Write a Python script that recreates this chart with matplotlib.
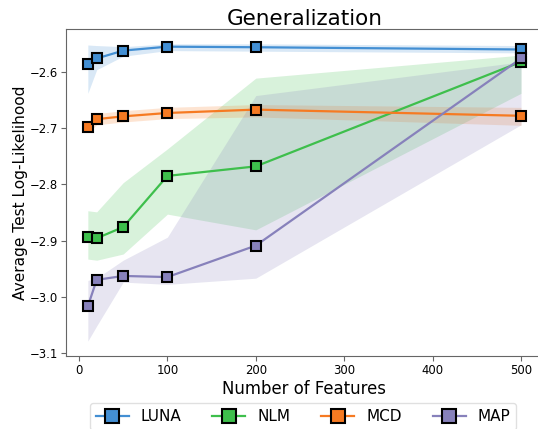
import matplotlib
matplotlib.use("Agg")
import matplotlib.pyplot as plt

# Number of random features used by each model
n_features = [10, 20, 50, 100, 200, 500]

# Mean test log-likelihood per method
luna_mean = [-2.585, -2.576, -2.562, -2.555, -2.556, -2.560]
nlm_mean = [-2.893, -2.896, -2.876, -2.785, -2.768, -2.582]
mcd_mean = [-2.698, -2.684, -2.679, -2.673, -2.667, -2.678]
map_mean = [-3.017, -2.970, -2.963, -2.965, -2.909, -2.576]

# Lower / upper edges of the shaded spread for each method
luna_lo = [-2.638, -2.596, -2.572, -2.562, -2.563, -2.566]
luna_hi = [-2.552, -2.553, -2.555, -2.550, -2.550, -2.553]
nlm_lo = [-2.933, -2.935, -2.924, -2.853, -2.881, -2.638]
nlm_hi = [-2.847, -2.849, -2.797, -2.737, -2.611, -2.570]
mcd_lo = [-2.708, -2.694, -2.689, -2.683, -2.680, -2.695]
mcd_hi = [-2.688, -2.674, -2.669, -2.663, -2.658, -2.663]
map_lo = [-3.079, -3.052, -2.974, -2.978, -2.967, -2.694]
map_hi = [-2.971, -2.967, -2.935, -2.894, -2.642, -2.582]

labels = ["LUNA", "NLM", "MCD", "MAP"]
colors = ["#438fd3", "#3ebf4c", "#f67a22", "#8781bb"]

series = [
    (luna_mean, luna_lo, luna_hi),
    (nlm_mean, nlm_lo, nlm_hi),
    (mcd_mean, mcd_lo, mcd_hi),
    (map_mean, map_lo, map_hi),
]

fig = plt.figure(figsize=(5.38, 4.29), dpi=100)
ax = fig.add_axes([0.1230, 0.1702, 0.8857, 0.7622])

for (mean, lo, hi), lab, col in zip(series, labels, colors):
    ax.fill_between(n_features, lo, hi, color=col, alpha=0.2, linewidth=0, zorder=1)

for (mean, lo, hi), lab, col in zip(series, labels, colors):
    ax.plot(n_features, mean, color=col, linewidth=1.6, marker="s",
            markersize=6.6, markerfacecolor=col, markeredgecolor="black",
            markeredgewidth=1.5, label=lab, zorder=3)

ax.set_xticks([0, 100, 200, 300, 400, 500])
ax.set_yticks([-3.1, -3.0, -2.9, -2.8, -2.7, -2.6])
ax.tick_params(axis="both", labelsize=8.4, length=3.5, width=0.8,
               color="0.4", pad=2.5)
for sp in ax.spines.values():
    sp.set_color("0.4")

ax.set_title("Generalization", fontsize=15.5, pad=3)
ax.set_xlabel("Number of Features", fontsize=11.9, labelpad=2)
ax.set_ylabel("Average Test Log-Likelihood", fontsize=11.1, labelpad=1)

leg = ax.legend(loc="upper center", bbox_to_anchor=(0.497, -0.144),
                ncol=4, fontsize=11, borderaxespad=0, frameon=True,
                handlelength=2.15, handletextpad=0.77, columnspacing=2.05,
                markerscale=1.45)
leg.get_frame().set_edgecolor("0.85")

fig.savefig("out.png", dpi=100)
